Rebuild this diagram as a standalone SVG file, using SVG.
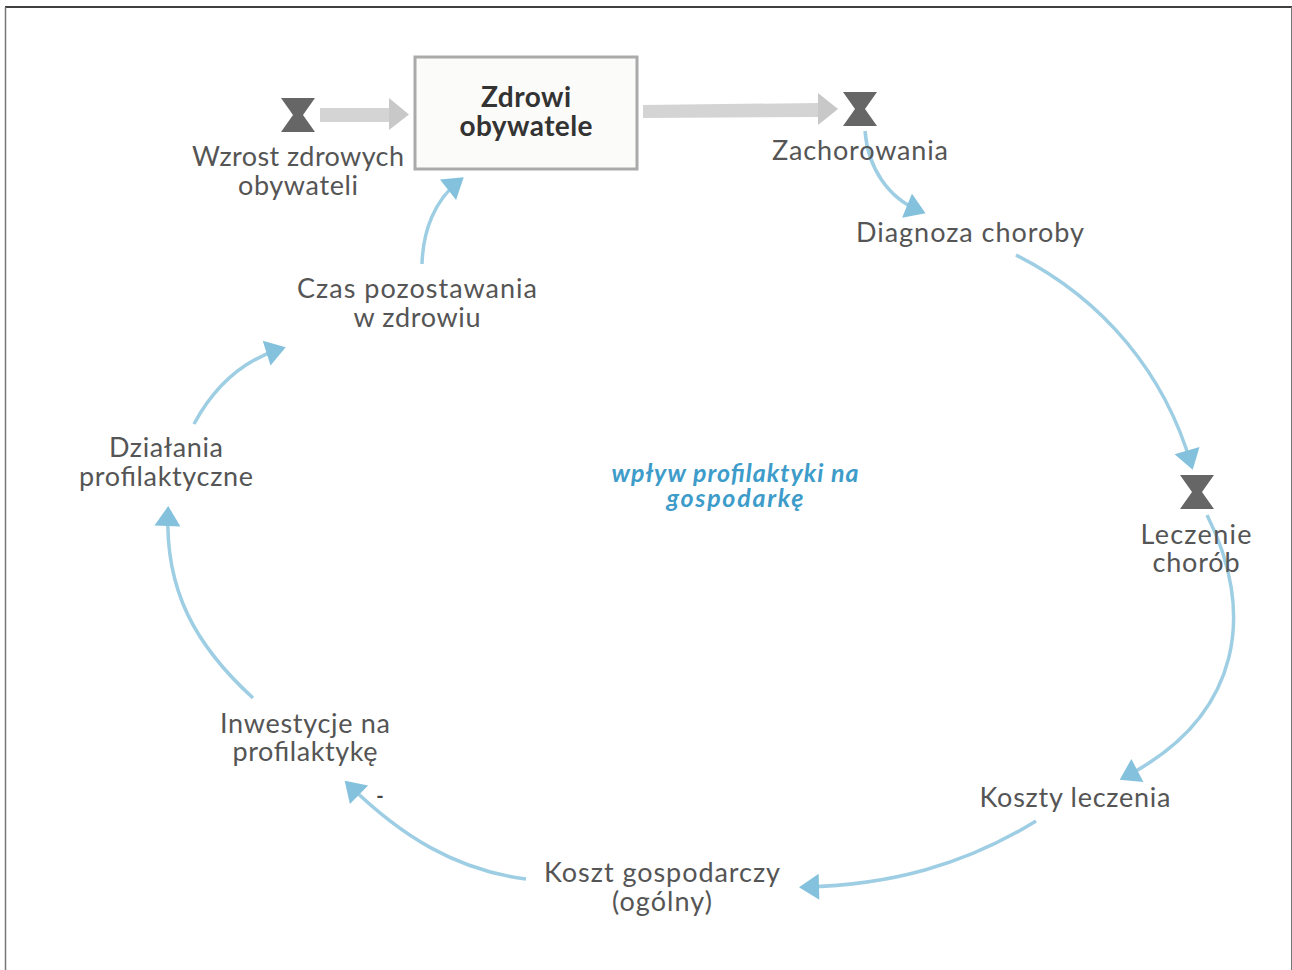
<svg xmlns="http://www.w3.org/2000/svg" width="1292" height="970" viewBox="0 0 1292 970">
<defs>
<marker id="blue" markerUnits="userSpaceOnUse" markerWidth="26" markerHeight="28" refX="15" refY="13" orient="auto"><path d="M1 0L21 13L1 26Z" fill="#84c1dc"/></marker>
<g id="hg"><path d="M-17 -17H17L5 0L17 17H-17L-5 0Z" fill="#666"/></g>
</defs>
<style>
text{font-family:"Lato","Liberation Sans",sans-serif;font-size:27px;fill:#555;text-anchor:middle}
.b{font-size:28px;font-weight:700;fill:#333}
.i{font-size:25px;font-weight:700;font-style:italic;fill:#3d9cc9}
.c{fill:none;stroke:#9ecee3;stroke-width:3.5}
.f{fill:#d4d4d4}.h{fill:#c8c8c8}
</style>
<rect width="1292" height="970" fill="#fff"/>
<path d="M5 7H1292" stroke="#000" stroke-width="1.500"/>
<path d="M5.500 7V970" stroke="#777" stroke-width="1.500"/>
<path d="M1291.500 7V970" stroke="#777" stroke-width="1"/>
<g id="connectors">
<path class="c" marker-end="url(#blue)" d="M865 131C868 168 888 198 920 211"/>
<path class="c" marker-end="url(#blue)" d="M1016 255C1105 300 1165 375 1191 464"/>
<path class="c" marker-end="url(#blue)" d="M1207 515C1255 610 1244 715 1125 777"/>
<path class="c" marker-end="url(#blue)" d="M1036 821C965 865 890 885 805 887"/>
<path class="c" marker-end="url(#blue)" d="M526 879C455 870 400 835 349 785"/>
<path class="c" marker-end="url(#blue)" d="M253 698C195 645 165 590 168 512"/>
<path class="c" marker-end="url(#blue)" d="M194 424C215 385 245 360 280 349"/>
<path class="c" marker-end="url(#blue)" d="M422 264C423 230 435 200 459 181"/>
<path class="f" d="M320 108H389V122H320Z"/><path class="h" d="M389 98L409 114.500L389 130Z"/>
<path class="f" d="M643 105L818 103V117L643 118Z"/><path class="h" d="M818 93L838 109L818 125Z"/>
</g>
<g id="stock"><rect x="415" y="57" width="222" height="112" fill="#fbfbf9" stroke="#aaa" stroke-width="3"/>
<text x="526" y="107" class="b" textLength="90">Zdrowi</text><text x="526" y="136" class="b" textLength="133">obywatele</text></g>
<g id="wzrost"><use href="#hg" x="298" y="115"/><text x="298" y="166" textLength="212">Wzrost zdrowych</text><text x="298" y="195" textLength="120">obywateli</text></g>
<g id="zachorowania"><use href="#hg" x="860" y="109"/><text x="860" y="160" textLength="176">Zachorowania</text></g>
<g id="diagnoza"><text x="970" y="242" textLength="228">Diagnoza choroby</text></g>
<g id="leczenie"><use href="#hg" x="1197" y="492"/><text x="1196" y="544" textLength="111">Leczenie</text><text x="1196" y="572" textLength="87">chorób</text></g>
<g id="koszty"><text x="1075" y="807" textLength="191">Koszty leczenia</text></g>
<g id="koszt"><text x="662" y="882" textLength="236">Koszt gospodarczy</text><text x="662" y="911" textLength="100">(ogólny)</text></g>
<g id="inwestycje"><text x="305" y="733" textLength="170">Inwestycje na</text><text x="305" y="761" textLength="145">profilaktykę</text></g>
<text x="380" y="803" style="font-size:20px;font-weight:700;fill:#444">-</text>
<g id="dzialania"><text x="166" y="457" textLength="114">Działania</text><text x="166" y="486" textLength="174">profilaktyczne</text></g>
<g id="czas"><text x="417" y="298" textLength="240">Czas pozostawania</text><text x="417" y="327" textLength="127">w zdrowiu</text></g>
<g id="label"><text x="735" y="482" class="i" textLength="247">wpływ profilaktyki na</text><text x="735" y="507" class="i" textLength="137">gospodarkę</text></g>
</svg>
